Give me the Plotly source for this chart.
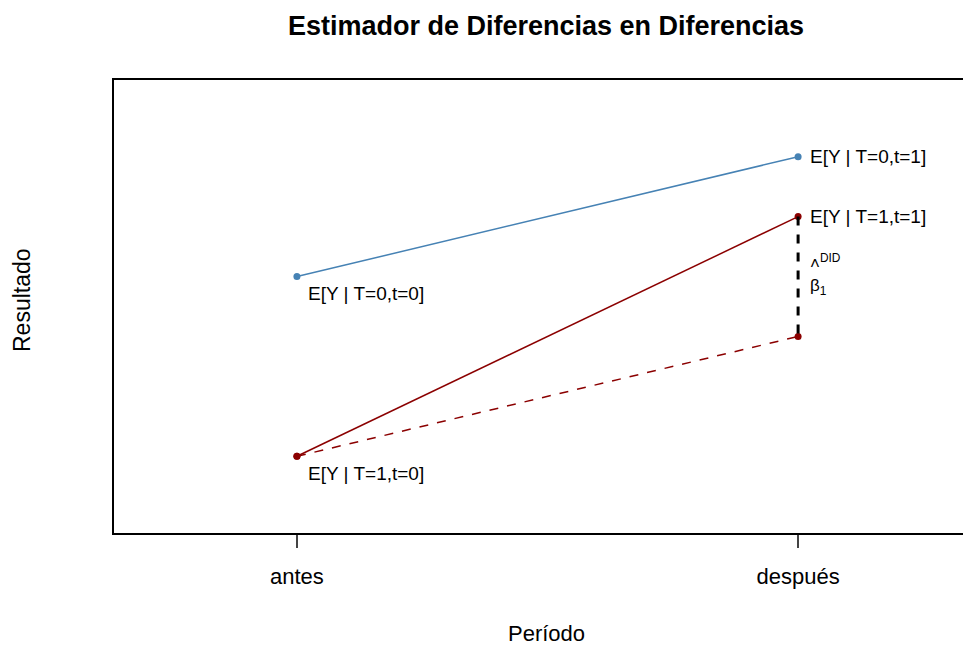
import plotly.graph_objects as go

periodos = ["antes", "después"]
x_pos = [1, 2]
control = [5, 7]          # T=0
tratados = [2, 6]         # T=1
contrafactual = [2, 4]    # T=1 sin tratamiento

lbl_control = ["E[Y | T=0,t=0]", "E[Y | T=0,t=1]"]
lbl_tratados = ["E[Y | T=1,t=0]", "E[Y | T=1,t=1]"]

BLUE = "#4682B4"
RED = "#8B0000"
FONT = "Liberation Sans, Arial, sans-serif"

W, H = 963, 637
L, T, B = 106, 72, 112
PW, PH = W - L, H - T - B

fig = go.Figure()
fig.add_trace(go.Scatter(x=x_pos, y=control, mode="lines+markers",
                         line=dict(color=BLUE, width=1.5),
                         marker=dict(color=BLUE, size=7), showlegend=False))
fig.add_trace(go.Scatter(x=x_pos, y=tratados, mode="lines+markers",
                         line=dict(color=RED, width=1.5),
                         marker=dict(color=RED, size=7), showlegend=False))
fig.add_trace(go.Scatter(x=x_pos, y=contrafactual, mode="lines+markers",
                         line=dict(color=RED, width=1.5, dash="dash"),
                         marker=dict(color=RED, size=7), showlegend=False))
fig.add_trace(go.Scatter(x=[x_pos[1], x_pos[1]], y=[tratados[1], contrafactual[1]],
                         mode="lines", line=dict(color="black", width=3, dash="dash"),
                         showlegend=False))

lab_font = dict(size=19)
ann = []
ann.append(dict(x=x_pos[1], y=control[1], text=lbl_control[1], xanchor="left",
                yanchor="middle", xshift=10, showarrow=False, font=lab_font))
ann.append(dict(x=x_pos[1], y=tratados[1], text=lbl_tratados[1], xanchor="left",
                yanchor="middle", xshift=10, showarrow=False, font=lab_font))
ann.append(dict(x=x_pos[0], y=control[0], text=lbl_control[0], xanchor="left",
                yanchor="middle", xshift=9, yshift=-17, showarrow=False, font=lab_font))
ann.append(dict(x=x_pos[0], y=tratados[0], text=lbl_tratados[0], xanchor="left",
                yanchor="middle", xshift=9, yshift=-17, showarrow=False, font=lab_font))
mid = (tratados[1] + contrafactual[1]) / 2
ann.append(dict(x=x_pos[1], y=mid, text="˄<sup>DID</sup><br>β<sub>1</sub>",
                xanchor="left", align="left", yanchor="middle", xshift=10,
                yshift=2, showarrow=False, font=dict(size=17)))
ann.append(dict(x=(546 - 8 - L) / PW, y=-(625 - (T + PH)) / PH, xref="paper",
                yref="paper", text="Período", showarrow=False,
                xanchor="center", yanchor="middle", font=dict(size=22)))
ann.append(dict(x=(14 - L) / PW, y=(T + PH - (300 - 8)) / PH, xref="paper",
                yref="paper", text="Resultado", textangle=-90, showarrow=False,
                xanchor="center", yanchor="middle", font=dict(size=23)))

fig.update_layout(
    width=W, height=H,
    margin=dict(l=L, r=0, t=T, b=B),
    paper_bgcolor="white", plot_bgcolor="white",
    font=dict(family=FONT, color="black", size=20),
    title=dict(text="<b>Estimador de Diferencias en Diferencias</b>",
               x=(546 - 8) / W, xanchor="center", y=1 - 18 / H, yanchor="middle",
               font=dict(size=27, family=FONT)),
    annotations=ann,
)
fig.update_xaxes(range=[0.635, 2.345], tickvals=x_pos, ticktext=periodos,
                 showline=True, linecolor="black", linewidth=1.5, mirror=True,
                 ticks="outside", ticklen=13, tickwidth=1.5, tickcolor="#444",
                 ticklabelstandoff=10,
                 showgrid=False, zeroline=False, tickfont=dict(size=22))
fig.update_yaxes(range=[0.72, 8.28], showline=True, linecolor="black",
                 linewidth=1.5, mirror=False, showticklabels=False, ticks="",
                 showgrid=False, zeroline=False)

fig.write_html("out.html")
